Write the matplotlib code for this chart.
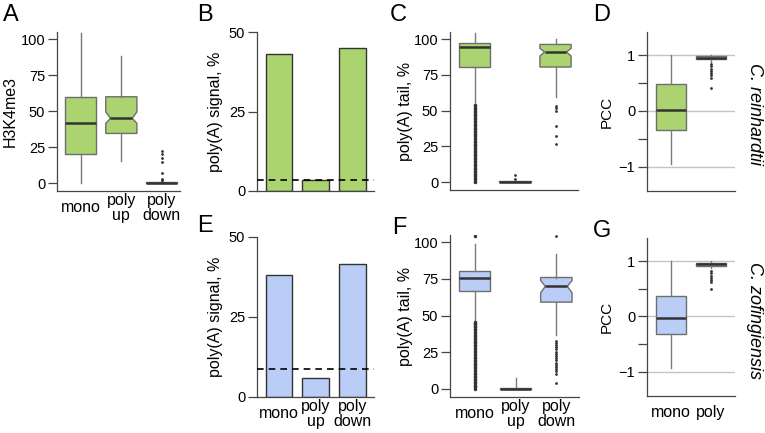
import matplotlib
matplotlib.use("Agg")
import matplotlib.pyplot as plt

plt.rcParams['font.family'] = ['Liberation Sans', 'DejaVu Sans']

GREEN = '#abd470'
BLUE = '#b9cdf7'
EDGE = '#6e6e6e'
DARK = '#333333'
SPINE = '#444444'

# ---------------- data ----------------
cats3 = ['mono', 'poly\nup', 'poly\ndown']
cats2 = ['mono', 'poly']

# A: H3K4me3 (C. reinhardtii)
a_med = [41.5, 45.0, 0.0]
a_q1 = [20.0, 34.5, 0.0]
a_q3 = [60.0, 60.0, 0.6]
a_lo = [0.0, 15.5, 0.0]
a_hi = [104.0, 88.5, 1.0]
a_cilo = [None, 41.5, None]
a_cihi = [None, 49.5, None]
a_fliers = [[], [], [1, 2, 3, 7, 15, 17.5, 20, 22.5]]

# B: poly(A) signal, % (C. reinhardtii)
b_vals = [43.0, 3.5, 45.0]
b_ref = 3.5

# C: poly(A) tail, % (C. reinhardtii)
c_med = [94.5, 0.0, 91.0]
c_q1 = [80.5, 0.0, 80.5]
c_q3 = [97.5, 0.6, 96.3]
c_lo = [54.0, 0.0, 59.5]
c_hi = [104.0, 1.0, 100.0]
c_cilo = [None, None, 88.2]
c_cihi = [None, None, 93.5]
c_fliers = [[0, 1, 2, 3, 4, 5, 6, 7, 8, 9, 10, 11, 12, 13, 14, 15, 16, 17, 18,
             19, 20, 21, 22, 23, 24, 25, 26, 27, 28, 29, 30, 31, 32, 33, 34, 35,
             36, 37, 38, 39, 40, 41, 42, 43, 44, 45, 46, 47, 48, 49, 50, 51, 52,
             53, 53.8],
            [2, 5],
            [53.5, 52, 49.5, 39, 32, 26.5]]
c_dense = [True, False, False]

# D: PCC (C. reinhardtii)
d_med = [0.02, 0.96]
d_q1 = [-0.35, 0.93]
d_q3 = [0.48, 0.98]
d_lo = [-0.95, 0.88]
d_hi = [1.0, 1.0]
d_fliers = [[], [0.84, 0.80, 0.76, 0.72, 0.68, 0.64, 0.60, 0.42]]

# E: poly(A) signal, % (C. zofingiensis)
e_vals = [38.0, 5.8, 41.7]
e_ref = 8.8

# F: poly(A) tail, % (C. zofingiensis)
f_med = [75.5, 0.0, 70.0]
f_q1 = [66.6, 0.0, 59.2]
f_q3 = [80.5, 0.6, 76.0]
f_lo = [46.0, 0.0, 37.0]
f_hi = [99.0, 7.3, 92.0]
f_cilo = [None, None, 65.5]
f_cihi = [None, None, 74.0]
f_fliers = [[0, 1, 2, 3, 4, 5, 6, 7, 8, 9, 10, 11, 12, 13, 14, 15, 16, 17, 18,
             19, 20, 21, 22, 23, 24, 25, 26, 27, 28, 29, 30, 31, 32, 33, 34, 35,
             36, 37, 38, 39, 40, 41, 42, 43, 44, 45, 45.8, 104],
            [],
            [104, 33, 31.5, 30, 28.5, 27, 25.5, 24, 22.5, 21, 19.5, 18, 16.5,
             15, 13.5, 12, 10.5, 4]]
f_dense = [True, False, False]

# G: PCC (C. zofingiensis)
g_med = [-0.02, 0.95]
g_q1 = [-0.31, 0.91]
g_q3 = [0.37, 0.97]
g_lo = [-0.93, 0.87]
g_hi = [1.0, 1.0]
g_fliers = [[], [0.82, 0.78, 0.74, 0.70, 0.66, 0.62, 0.49]]

# ---------------- layout helpers ----------------
W, H = 765, 433
fig = plt.figure(figsize=(W / 100, H / 100), dpi=100)


def rect(x0, x1, ytop, ybot):
    return [x0 / W, 1 - ybot / H, (x1 - x0) / W, (ybot - ytop) / H]


def style_axes(ax):
    for s in ['top', 'right']:
        ax.spines[s].set_visible(False)
    for s in ['left', 'bottom']:
        ax.spines[s].set_color(SPINE)
        ax.spines[s].set_linewidth(0.9)
    ax.tick_params(axis='y', length=6.5, width=0.9, color=SPINE, labelsize=10.5, pad=2)
    ax.tick_params(axis='x', length=0, labelsize=11.5, pad=12)


def set_xlabels(ax, labels):
    ax.set_xticks(range(1, len(labels) + 1))
    if labels:
        ax.set_xticklabels(labels, va='center', linespacing=1.0)
    else:
        ax.set_xticklabels([])


def draw_boxes(ax, med, q1, q3, lo, hi, fliers, color, cilo=None, cihi=None,
               width=0.77, dense=None):
    n = len(med)
    for i in range(n):
        st = dict(med=med[i], q1=q1[i], q3=q3[i], whislo=lo[i], whishi=hi[i],
                  fliers=fliers[i])
        notch = cilo is not None and cilo[i] is not None
        if notch:
            st['cilo'] = cilo[i]
            st['cihi'] = cihi[i]
        pos = i + 1
        msize = 2.5 if (dense is not None and dense[i]) else 2.0
        art = ax.bxp([st], positions=[pos], widths=width, shownotches=notch,
                     patch_artist=True, showcaps=False, manage_ticks=False,
                     boxprops=dict(facecolor=color, edgecolor=EDGE, linewidth=1.0),
                     medianprops=dict(color=DARK, linewidth=1.8, solid_capstyle='butt'),
                     whiskerprops=dict(color='#7a7a7a', linewidth=1.0),
                     flierprops=dict(marker='o', markersize=msize, markerfacecolor=DARK,
                                     markeredgecolor='none'))
        if notch:
            half = width * 0.35
            box = art['boxes'][0]
            path = box.get_path()
            v = path.vertices.copy()
            v[3, 0] = pos + half
            v[8, 0] = pos - half
            path.vertices = v
            art['medians'][0].set_xdata([pos - half, pos + half])


def draw_bars(ax, vals, ref, color):
    ax.bar(range(1, len(vals) + 1), vals, width=0.72, color=color,
           edgecolor=DARK, linewidth=1.0, zorder=2)
    ax.axhline(ref, color='black', linewidth=1.2, dashes=(4, 3), zorder=3)


def pcc_axes(ax):
    ax.set_ylim(-1.44, 1.42)
    ax.set_yticks([-1, -0.5, 0, 0.5, 1])
    ax.set_yticklabels(['\u22121', '', '0', '', '1'])
    for y in [-1, 0, 1]:
        ax.axhline(y, color='#c4c4c4', linewidth=1.0, zorder=0)
    ax.set_xlim(0.4, 2.6)


# ---------------- panels ----------------
axA = fig.add_axes(rect(57, 180, 32, 191))
axB = fig.add_axes(rect(257, 374, 32, 191))
axC = fig.add_axes(rect(450, 578, 32, 190))
axD = fig.add_axes(rect(647, 735, 32, 191))
axE = fig.add_axes(rect(257, 374, 237, 397))
axF = fig.add_axes(rect(450, 579, 235, 397))
axG = fig.add_axes(rect(647, 735, 238, 396))

for ax in [axA, axB, axC, axD, axE, axF, axG]:
    style_axes(ax)

# A
draw_boxes(axA, a_med, a_q1, a_q3, a_lo, a_hi, a_fliers, GREEN, a_cilo, a_cihi)
axA.set_ylim(-5.5, 105)
axA.set_yticks([0, 25, 50, 75, 100])
axA.set_xlim(0.41, 3.45)
set_xlabels(axA, cats3)
axA.set_ylabel('H3K4me3', fontsize=11.5)
axA.yaxis.set_label_coords(-0.32, 0.5)

# B
draw_bars(axB, b_vals, b_ref, GREEN)
axB.set_ylim(0, 50)
axB.set_yticks([0, 25, 50])
axB.set_xlim(0.40, 3.59)
set_xlabels(axB, [])
axB.set_ylabel('poly(A) signal, %', fontsize=11.5)
axB.yaxis.set_label_coords(-0.29, 0.5)

# C
draw_boxes(axC, c_med, c_q1, c_q3, c_lo, c_hi, c_fliers, GREEN, c_cilo, c_cihi,
           dense=c_dense)
axC.set_ylim(-5.5, 105)
axC.set_yticks([0, 25, 50, 75, 100])
axC.set_xlim(0.395, 3.555)
set_xlabels(axC, [])
axC.set_ylabel('poly(A) tail, %', fontsize=11.5)
axC.yaxis.set_label_coords(-0.29, 0.5)

# D
pcc_axes(axD)
draw_boxes(axD, d_med, d_q1, d_q3, d_lo, d_hi, d_fliers, GREEN, width=0.75)
set_xlabels(axD, [])
axD.set_ylabel('PCC', fontsize=11)
axD.yaxis.set_label_coords(-0.375, 0.5)

# E
draw_bars(axE, e_vals, e_ref, BLUE)
axE.set_ylim(0, 50)
axE.set_yticks([0, 25, 50])
axE.set_xlim(0.40, 3.59)
set_xlabels(axE, cats3)
axE.set_ylabel('poly(A) signal, %', fontsize=11.5)
axE.yaxis.set_label_coords(-0.29, 0.5)

# F
draw_boxes(axF, f_med, f_q1, f_q3, f_lo, f_hi, f_fliers, BLUE, f_cilo, f_cihi,
           dense=f_dense)
axF.set_ylim(-5.5, 105)
axF.set_yticks([0, 25, 50, 75, 100])
axF.set_xlim(0.395, 3.555)
set_xlabels(axF, cats3)
axF.set_ylabel('poly(A) tail, %', fontsize=11.5)
axF.yaxis.set_label_coords(-0.287, 0.5)

# G
pcc_axes(axG)
draw_boxes(axG, g_med, g_q1, g_q3, g_lo, g_hi, g_fliers, BLUE, width=0.75)
set_xlabels(axG, cats2)
axG.set_ylabel('PCC', fontsize=11)
axG.yaxis.set_label_coords(-0.375, 0.5)

# panel letters
letters = [('A', 3, 4), ('B', 197, 4), ('C', 390, 4), ('D', 593, 4),
           ('E', 197, 215), ('F', 392, 217), ('G', 593, 220)]
for t, x, y in letters:
    fig.text(x / W, 1 - y / H, t, fontsize=17, ha='left', va='top')

# species labels
fig.text(754 / W, 1 - 114 / H, 'C. reinhardtii', rotation=-90, style='italic',
         fontsize=13, ha='center', va='center')
fig.text(754 / W, 1 - 320 / H, 'C. zofingiensis', rotation=-90, style='italic',
         fontsize=13, ha='center', va='center')

fig.savefig('out.png', dpi=100)
